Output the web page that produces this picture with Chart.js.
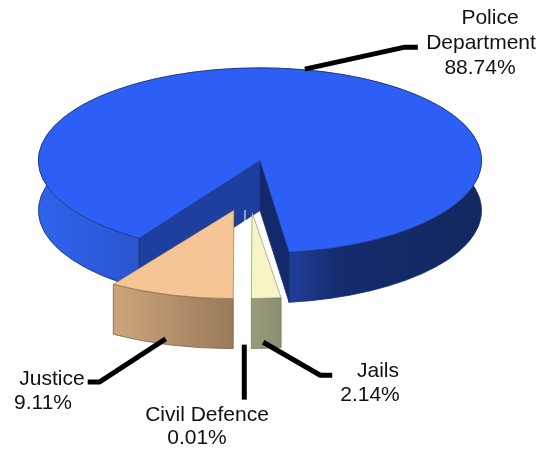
<!DOCTYPE html>
<html>
<head>
<meta charset="utf-8">
<title>Budget share</title>
<script src="https://cdn.jsdelivr.net/npm/chart.js@4/dist/chart.umd.js"></script>
<style>
  html, body { margin: 0; padding: 0; background: #fff; }
  canvas { display: block; }
</style>
</head>
<body>
<canvas id="pieChart" width="538" height="449"></canvas>
<script>
// --- Data ---
const categories = ['Police\nDepartment', 'Jails', 'Civil Defence', 'Justice'];
const shares = [88.74, 2.14, 0.01, 9.11];

// --- Slice colours ---
const topColors = ['#2d5ff6', '#f6f5c6', '#ffffff', '#f6c595'];
const edgeColors = ['#16306f', '#77765a', '#ffffff', '#7d5f42'];
const wallStops = [
  [[0, '#2f63ec'], [0.23, '#2a55cf'], [0.57, '#1f3f98'], [0.68, '#152b6c'], [1, '#12285f']],
  [[0, '#9a9a7c'], [1, '#8e8e72']],
  [[0, '#ffffff'], [1, '#ffffff']],
  [[0, '#cda57c'], [1, '#997a5a']]
];
// only the big slice shows its cut faces
const cutColors = [['#13296b', '#1e3f9f'], null, null, null];

// --- 3D look ---
const tilt = [0.418, 0.39, 0.4, 0.4];
const depth = 50;
const centerY = 160.5;
const explodeX = [0, -8, -15, -26];
const explodeY = [0, 51.5, 49.5, 49.5];

// --- Labels and leader lines (offsets from the slice rim) ---
const labelX = [[490, 481, 480], [378, 370], [207, 197], [52, 43]];
const labelY = [[18, 43, 68], [371, 395], [415, 438], [379, 403]];
const leaderBends = [
  [[-4, -1], [96, -23], [109, -23]],
  [[-3, -2], [54, 31], [66, 31]],
  [[0, 0], [0, 55]],
  [[-5, -2], [-71, 41], [-83, 41]]
];

// Point on the rim of a tilted slice
function rimPoint(arc, i, angle, drop) {
  return {
    x: arc.x + explodeX[i] + arc.outerRadius * Math.cos(angle),
    y: centerY + explodeY[i] + drop + arc.outerRadius * tilt[i] * Math.sin(angle)
  };
}

function drawWalls(ctx, arc, i) {
  const cx = arc.x + explodeX[i];
  const cy = centerY + explodeY[i];
  const r = arc.outerRadius;
  const ry = r * tilt[i];
  const a = rimPoint(arc, i, arc.startAngle, 0);
  const b = rimPoint(arc, i, arc.endAngle, 0);

  ctx.lineWidth = 0.8;
  ctx.strokeStyle = edgeColors[i];

  // outer wall, the top face hides its back half
  const xs = [];
  for (let t = arc.startAngle; t < arc.endAngle; t += 0.01) {
    if (Math.sin(t) >= 0) xs.push(cx + r * Math.cos(t));
  }
  const left = Math.min(...xs, a.x, b.x);
  const right = Math.max(...xs, a.x, b.x);
  const grad = ctx.createLinearGradient(left, 0, right, 0);
  wallStops[i].forEach(s => grad.addColorStop(s[0], s[1]));
  ctx.fillStyle = grad;
  ctx.beginPath();
  ctx.ellipse(cx, cy, r, ry, 0, arc.startAngle, arc.endAngle);
  ctx.ellipse(cx, cy + depth, r, ry, 0, arc.endAngle, arc.startAngle, true);
  ctx.closePath();
  ctx.fill();
  ctx.stroke();

  // the two cut faces
  if (!cutColors[i]) return;
  [[b, cutColors[i][0]], [a, cutColors[i][1]]].forEach(([p, color]) => {
    ctx.fillStyle = color;
    ctx.beginPath();
    ctx.moveTo(cx, cy);
    ctx.lineTo(p.x, p.y);
    ctx.lineTo(p.x, p.y + depth);
    ctx.lineTo(cx, cy + depth);
    ctx.closePath();
    ctx.fill();
    ctx.stroke();
  });
}

const pie3d = {
  id: 'pie3d',
  beforeDatasetDraw(chart, args) {
    const ctx = chart.ctx;
    args.meta.data.forEach((arc, i) => {
      if (i !== 2) drawWalls(ctx, arc, i);
      ctx.save();
      ctx.translate(explodeX[i], centerY + explodeY[i]);
      ctx.scale(1, tilt[i]);
      ctx.translate(0, -arc.y);
      arc.draw(ctx);
      ctx.restore();
    });
    return false;
  },
  afterDatasetsDraw(chart) {
    const ctx = chart.ctx;
    const arcs = chart.getDatasetMeta(0).data;

    // leader lines
    ctx.save();
    ctx.strokeStyle = '#000';
    ctx.lineWidth = 5;
    ctx.lineJoin = 'round';
    arcs.forEach((arc, i) => {
      const mid = (arc.startAngle + arc.endAngle) / 2;
      const drop = Math.sin(mid) > 0 ? depth - 4 : 0;
      const p = rimPoint(arc, i, mid, drop);
      ctx.beginPath();
      leaderBends[i].forEach((b, k) => {
        if (k === 0) ctx.moveTo(p.x + b[0], p.y + b[1]);
        else ctx.lineTo(p.x + b[0], p.y + b[1]);
      });
      ctx.stroke();
    });
    ctx.restore();

    // slice labels
    ctx.save();
    ctx.font = '21px "Liberation Sans"';
    ctx.fillStyle = '#111';
    ctx.textAlign = 'center';
    ctx.textBaseline = 'middle';
    categories.forEach((name, i) => {
      const lines = name.split('\n').concat(shares[i].toFixed(2) + '%');
      lines.forEach((text, k) => ctx.fillText(text, labelX[i][k], labelY[i][k]));
    });
    ctx.restore();
  }
};

// --- Pie Chart ---
const pieChart = new Chart(document.getElementById('pieChart'), {
  type: 'pie',
  data: {
    labels: categories,
    datasets: [{
      data: shares,
      backgroundColor: topColors,
      borderColor: edgeColors,
      borderWidth: 0.8,
      borderAlign: 'center',
      hoverOffset: 0
    }]
  },
  options: {
    responsive: false,
    animation: false,
    rotation: 213,
    layout: { padding: { left: 38, right: 56, top: 2, bottom: 3 } },
    plugins: { legend: { display: false }, tooltip: { enabled: false } }
  },
  plugins: [pie3d]
});
</script>
</body>
</html>
